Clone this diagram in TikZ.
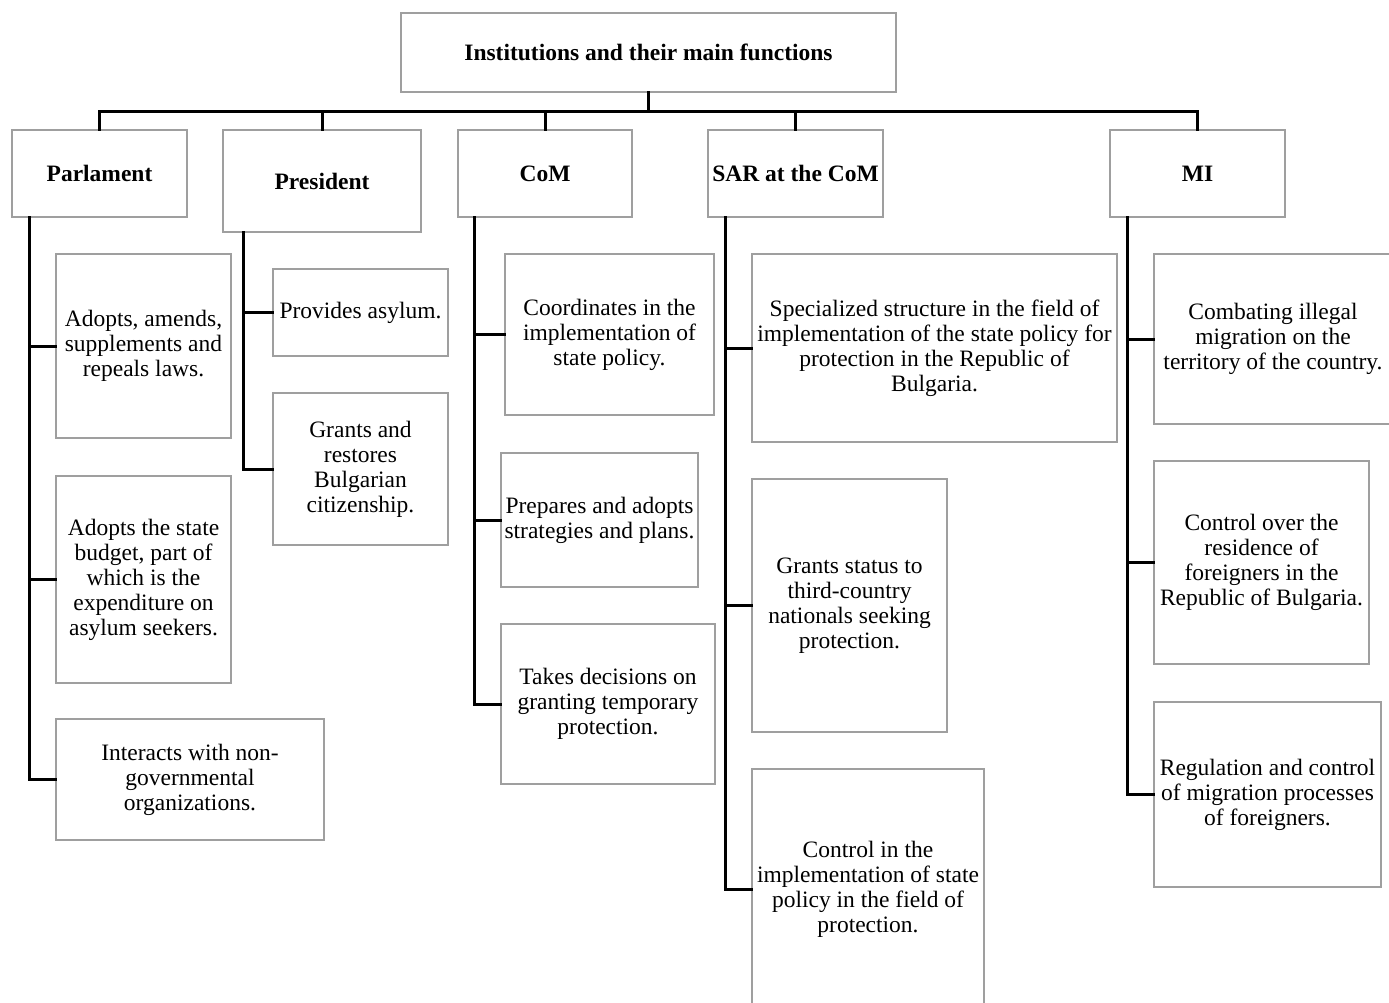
\documentclass[tikz,border=0pt]{standalone}
\usepackage{fontspec}
\setmainfont{Liberation Serif}
\usetikzlibrary{calc}
\begin{document}
\begin{tikzpicture}[x=1pt,y=-1pt,
  box/.style={draw=gray!75,line width=1.3pt,align=center,inner sep=0pt,
    font=\fontsize{23.5}{25}\selectfont},
  head/.style={box,font=\fontsize{23.5}{25}\selectfont\bfseries},
  link/.style={draw=black,line width=3pt,line cap=rect}]
\clip (0,0) rectangle (1389,1003);
\fill[white] (0,0) rectangle (1389,1003);
% title
\node[head,minimum width=495pt,minimum height=79pt] (title) at (648.5,52.5) {Institutions and their main functions};
% heads
\node[head,minimum width=175pt,minimum height=87pt] (par) at (99.5,173.5) {Parlament};
\node[head,minimum width=198pt,minimum height=102pt] (pres) at (322,181) {President};
\node[head,minimum width=174pt,minimum height=87pt] (com) at (545,173.5) {CoM};
\node[head,minimum width=175pt,minimum height=87pt] (sar) at (795.5,173.5) {SAR at the CoM};
\node[head,minimum width=175pt,minimum height=87pt] (mi) at (1197.5,173.5) {MI};
% Parlament children
\node[box,minimum width=175pt,minimum height=184pt] (p1) at (143.5,346) {Adopts, amends,\\supplements and\\repeals laws.};
\node[box,minimum width=175pt,minimum height=207pt] (p2) at (143.5,579.5) {Adopts the state\\budget, part of\\which is the\\expenditure on\\asylum seekers.};
\node[box,minimum width=268pt,minimum height=121pt] (p3) at (190,779.5) {Interacts with non-\\governmental\\organizations.};
% President children
\node[box,minimum width=175pt,minimum height=87pt] (r1) at (360.5,312.5) {Provides asylum.};
\node[box,minimum width=175pt,minimum height=152pt] (r2) at (360.5,469) {Grants and\\restores\\Bulgarian\\citizenship.};
% CoM children
\node[box,minimum width=209pt,minimum height=161pt] (c1) at (609.5,334.5) {Coordinates in the\\implementation of\\state policy.};
\node[box,minimum width=197pt,minimum height=134pt] (c2) at (599.5,520) {Prepares and adopts\\strategies and plans.};
\node[box,minimum width=214pt,minimum height=160pt] (c3) at (608,704) {Takes decisions on\\granting temporary\\protection.};
% SAR children
\node[box,minimum width=365pt,minimum height=188pt] (s1) at (934.5,348) {Specialized structure in the field of\\implementation of the state policy for\\protection in the Republic of\\Bulgaria.};
\node[box,minimum width=195pt,minimum height=253pt] (s2) at (849.5,605.5) {Grants status to\\third-country\\nationals seeking\\protection.};
\node[box,minimum width=232pt,minimum height=241pt] (s3) at (868,889.5) {Control in the\\implementation of state\\policy in the field of\\protection.};
% MI children
\node[box,minimum width=238pt,minimum height=170pt] (m1) at (1273,339) {Combating illegal\\migration on the\\territory of the country.};
\node[box,minimum width=215pt,minimum height=203pt] (m2) at (1261.5,562.5) {Control over the\\residence of\\foreigners in the\\Republic of Bulgaria.};
\node[box,minimum width=227pt,minimum height=185pt] (m3) at (1267.5,794.5) {Regulation and control\\of migration processes\\of foreigners.};
% top connectors
\coordinate (bus) at ($(title.south)+(0,19)$);
\foreach \h in {par,pres,com,sar,mi}{
  \draw[link] (title.south) -- (bus) -| (\h.north);
}
% branches
\foreach \c in {p1,p2,p3}{\draw[link] ($(par.south west)+(18,0)$) |- (\c.west);}
\foreach \c in {r1,r2}{\draw[link] ($(pres.south west)+(21,0)$) |- (\c.west);}
\foreach \c in {c1,c2,c3}{\draw[link] ($(com.south west)+(17,0)$) |- (\c.west);}
\foreach \c in {s1,s2,s3}{\draw[link] ($(sar.south west)+(18,0)$) |- (\c.west);}
\foreach \c in {m1,m2,m3}{\draw[link] ($(mi.south west)+(18,0)$) |- (\c.west);}
\end{tikzpicture}
\end{document}
